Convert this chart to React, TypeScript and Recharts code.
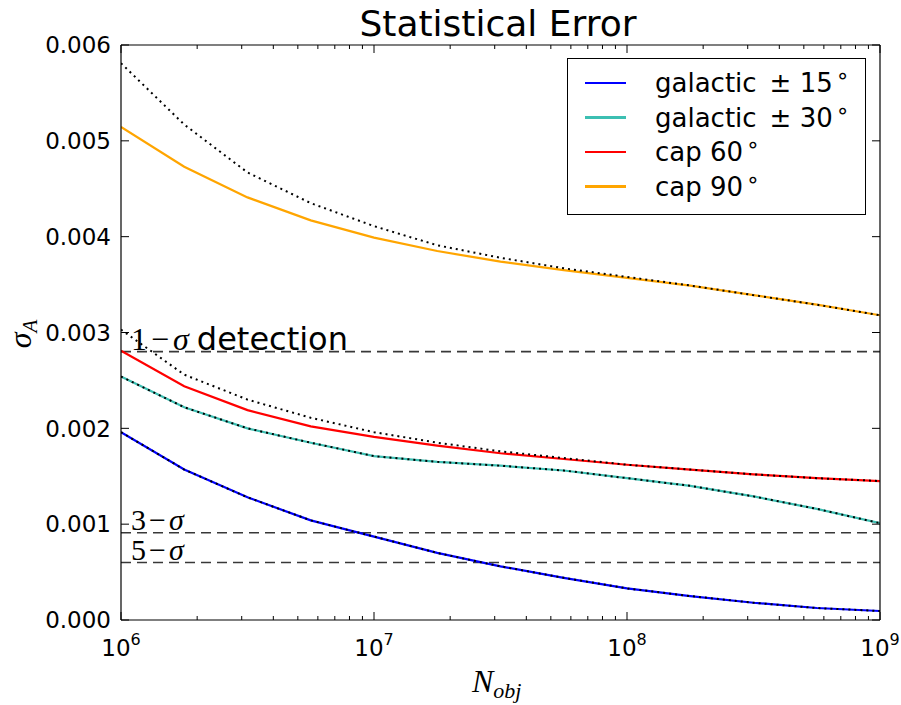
import React from 'react';
import { LineChart, Line, XAxis, YAxis, ReferenceLine, Legend } from 'recharts';

// Number of objects, sampled every quarter decade
const nObj = [1e6, 1.778e6, 3.162e6, 5.623e6, 1e7, 1.778e7, 3.162e7, 5.623e7, 1e8, 1.778e8, 3.162e8, 5.623e8, 1e9];

// Measured statistical error per sky mask
const galactic15 = [0.00196, 0.00157, 0.00128, 0.00104, 0.00087, 0.0007, 0.00056, 0.00044, 0.00033, 0.00025, 0.00018, 0.000125, 0.000094];
const galactic30 = [0.00254, 0.00222, 0.002, 0.00185, 0.00171, 0.00165, 0.00161, 0.00156, 0.00148, 0.0014, 0.00129, 0.00116, 0.00101];
const cap60 = [0.00281, 0.00244, 0.00219, 0.00202, 0.00191, 0.00182, 0.00174, 0.00168, 0.00162, 0.00157, 0.00152, 0.00148, 0.00145];
const cap90 = [0.005145, 0.00473, 0.00441, 0.00417, 0.00399, 0.00385, 0.00374, 0.00365, 0.00357, 0.00349, 0.00339, 0.00329, 0.00318];

// Analytic expectation (dotted), which departs from the cap curves at low N
const cap60Model = [0.00303, 0.00256, 0.0023, 0.00211, 0.00196, 0.00185, 0.00176, 0.00169, 0.00162, 0.00157, 0.00152, 0.00148, 0.00145];
const cap90Model = [0.00581, 0.00517, 0.00467, 0.00435, 0.00411, 0.00391, 0.00378, 0.00367, 0.00358, 0.00349, 0.00339, 0.00329, 0.00318];

// Detection thresholds
const thresholds = [
  { value: 0.0028, sigma: '1' },
  { value: 0.00091, sigma: '3' },
  { value: 0.0006, sigma: '5' },
];

const yTicks = [0, 0.001, 0.002, 0.003, 0.004, 0.005, 0.006];
const xDecades = [1e6, 1e7, 1e8, 1e9];
const xTicks: number[] = [];
xDecades.forEach((d, i) => {
  xTicks.push(d);
  if (i < xDecades.length - 1) for (let m = 2; m <= 9; m++) xTicks.push(d * m);
});

const series = [
  { key: 'g15', name: 'galactic\u2002± 15', color: '#0000ff', values: galactic15 },
  { key: 'g30', name: 'galactic\u2002± 30', color: '#3cbfb2', values: galactic30 },
  { key: 'c60', name: 'cap 60', color: '#ff0000', values: cap60 },
  { key: 'c90', name: 'cap 90', color: '#ffa500', values: cap90 },
];

const data = nObj.map((n, i) => ({
  n,
  g15: galactic15[i],
  g30: galactic30[i],
  c60: cap60[i],
  c90: cap90[i],
  m60: cap60Model[i],
  m90: cap90Model[i],
}));

const SANS = 'DejaVu Sans, sans-serif';
const SERIF = 'Liberation Serif, DejaVu Serif, serif';

const isMajor = (v: number) => Math.abs(Math.log10(v) - Math.round(Math.log10(v))) < 1e-6;

const BottomTick = (props: any) => {
  const { x, y, payload } = props;
  const v = payload.value;
  const major = isMajor(v);
  return (
    <g>
      <line x1={x} x2={x} y1={y} y2={y - (major ? 8 : 4)} stroke="#000" strokeWidth={1} />
      {major && (
        <text x={x} y={y + 36} textAnchor="middle" fontFamily={SANS} fontSize={23} fill="#000">
          10
          <tspan dy={-11} fontSize={16}>{Math.round(Math.log10(v))}</tspan>
        </text>
      )}
    </g>
  );
};

const TopTick = (props: any) => {
  const { x, y, payload } = props;
  const major = isMajor(payload.value);
  return <line x1={x} x2={x} y1={y} y2={y + (major ? 8 : 4)} stroke="#000" strokeWidth={1} />;
};

const LeftTick = (props: any) => {
  const { x, y, payload } = props;
  return (
    <g>
      <line x1={x} x2={x + 8} y1={y} y2={y} stroke="#000" strokeWidth={1} />
      <text x={x - 10} y={y} dy="0.36em" textAnchor="end" fontFamily={SANS} fontSize={23} fill="#000">
        {payload.value.toFixed(3)}
      </text>
    </g>
  );
};

const RightTick = (props: any) => {
  const { x, y } = props;
  return <line x1={x} x2={x - 8} y1={y} y2={y} stroke="#000" strokeWidth={1} />;
};

const LegendBox = () => (
  <div
    style={{
      width: 299,
      height: 157,
      border: '1.5px solid #000',
      background: '#fff',
      boxSizing: 'border-box',
      position: 'relative',
    }}
  >
    {series.map((s, i) => (
      <div
        key={s.key}
        style={{ position: 'absolute', left: 0, top: 11 + i * 34.5, height: 26, display: 'flex', alignItems: 'center' }}
      >
        <div style={{ marginLeft: 17, width: 41, height: 2.5, background: s.color }} />
        <span
          style={{ marginLeft: 29, fontFamily: SANS, fontSize: 26, color: '#000', whiteSpace: 'pre', lineHeight: '26px' }}
        >
          {s.name}
          <sup style={{ fontSize: 22, marginLeft: 3, verticalAlign: 'top', lineHeight: '12px' }}>∘</sup>
        </span>
      </div>
    ))}
  </div>
);

export default function App() {
  return (
    <div style={{ position: 'absolute', left: 0, top: 0, width: 901, height: 705, background: '#fff' }}>
      <LineChart width={901} height={705} data={data} margin={{ top: 44, right: 20, bottom: 45, left: 61 }}>
        <XAxis
          dataKey="n"
          type="number"
          scale="log"
          domain={[1e6, 1e9]}
          allowDataOverflow
          ticks={xTicks}
          interval={0}
          height={40}
          tickSize={0}
          tickMargin={0}
          tick={<BottomTick />}
          axisLine={{ stroke: '#000', strokeWidth: 1.2 }}
          tickLine={false}
        />
        <XAxis
          xAxisId="top"
          orientation="top"
          dataKey="n"
          type="number"
          scale="log"
          domain={[1e6, 1e9]}
          allowDataOverflow
          ticks={xTicks}
          interval={0}
          height={1}
          tickSize={0}
          tickMargin={0}
          tick={<TopTick />}
          axisLine={{ stroke: '#000', strokeWidth: 1.2 }}
          tickLine={false}
        />
        <YAxis
          type="number"
          domain={[0, 0.006]}
          ticks={yTicks}
          interval={0}
          width={60}
          tickSize={0}
          tickMargin={0}
          tick={<LeftTick />}
          axisLine={{ stroke: '#000', strokeWidth: 1.2 }}
          tickLine={false}
          allowDataOverflow
        />
        <YAxis
          yAxisId="right"
          orientation="right"
          type="number"
          domain={[0, 0.006]}
          ticks={yTicks}
          interval={0}
          width={1}
          tickSize={0}
          tickMargin={0}
          tick={<RightTick />}
          axisLine={{ stroke: '#000', strokeWidth: 1.2 }}
          tickLine={false}
          allowDataOverflow
        />

        {thresholds.map((t) => (
          <ReferenceLine key={t.sigma} y={t.value} stroke="#383838" strokeWidth={1.6} strokeDasharray="10 6" />
        ))}

        {series.map((s) => (
          <Line
            key={s.key}
            dataKey={s.key}
            name={s.name}
            stroke={s.color}
            strokeWidth={2.2}
            dot={false}
            activeDot={false}
            isAnimationActive={false}
            type="linear"
          />
        ))}

        {['g15', 'g30', 'm60', 'm90'].map((k) => (
          <Line
            key={k}
            dataKey={k}
            legendType="none"
            stroke="#000"
            strokeWidth={2}
            strokeDasharray="2 4"
            dot={false}
            activeDot={false}
            isAnimationActive={false}
            type="linear"
          />
        ))}

        <Legend
          layout="vertical"
          align="center"
          verticalAlign="middle"
          content={<LegendBox />}
          wrapperStyle={{ left: 567, top: 58, width: 299, height: 157 }}
        />

        <text x={498} y={36} textAnchor="middle" fontFamily={SANS} fontSize={36} fill="#000">
          Statistical Error
        </text>

        <text x={131} y={350} fontFamily={SERIF} fontSize={32} fill="#000">
          1<tspan dx={4}>−</tspan>
          <tspan dx={4} fontStyle="italic">σ</tspan>
          <tspan fontFamily={SANS} fontSize={32} dx={8}>detection</tspan>
        </text>
        <text x={131} y={530} fontFamily={SERIF} fontSize={30} fill="#000">
          3<tspan dx={3}>−</tspan>
          <tspan dx={3} fontStyle="italic">σ</tspan>
        </text>
        <text x={131} y={560} fontFamily={SERIF} fontSize={30} fill="#000">
          5<tspan dx={3}>−</tspan>
          <tspan dx={3} fontStyle="italic">σ</tspan>
        </text>

        <text x={472} y={692} fontFamily={SERIF} fontStyle="italic" fontSize={32} fill="#000">
          N<tspan fontSize={22} dy={6}>obj</tspan>
        </text>

        <text
          transform="translate(31, 334) rotate(-90)"
          textAnchor="middle"
          fontFamily={SERIF}
          fontStyle="italic"
          fontSize={32}
          fill="#000"
        >
          σ<tspan fontSize={21} dy={6}>A</tspan>
        </text>
      </LineChart>
    </div>
  );
}
